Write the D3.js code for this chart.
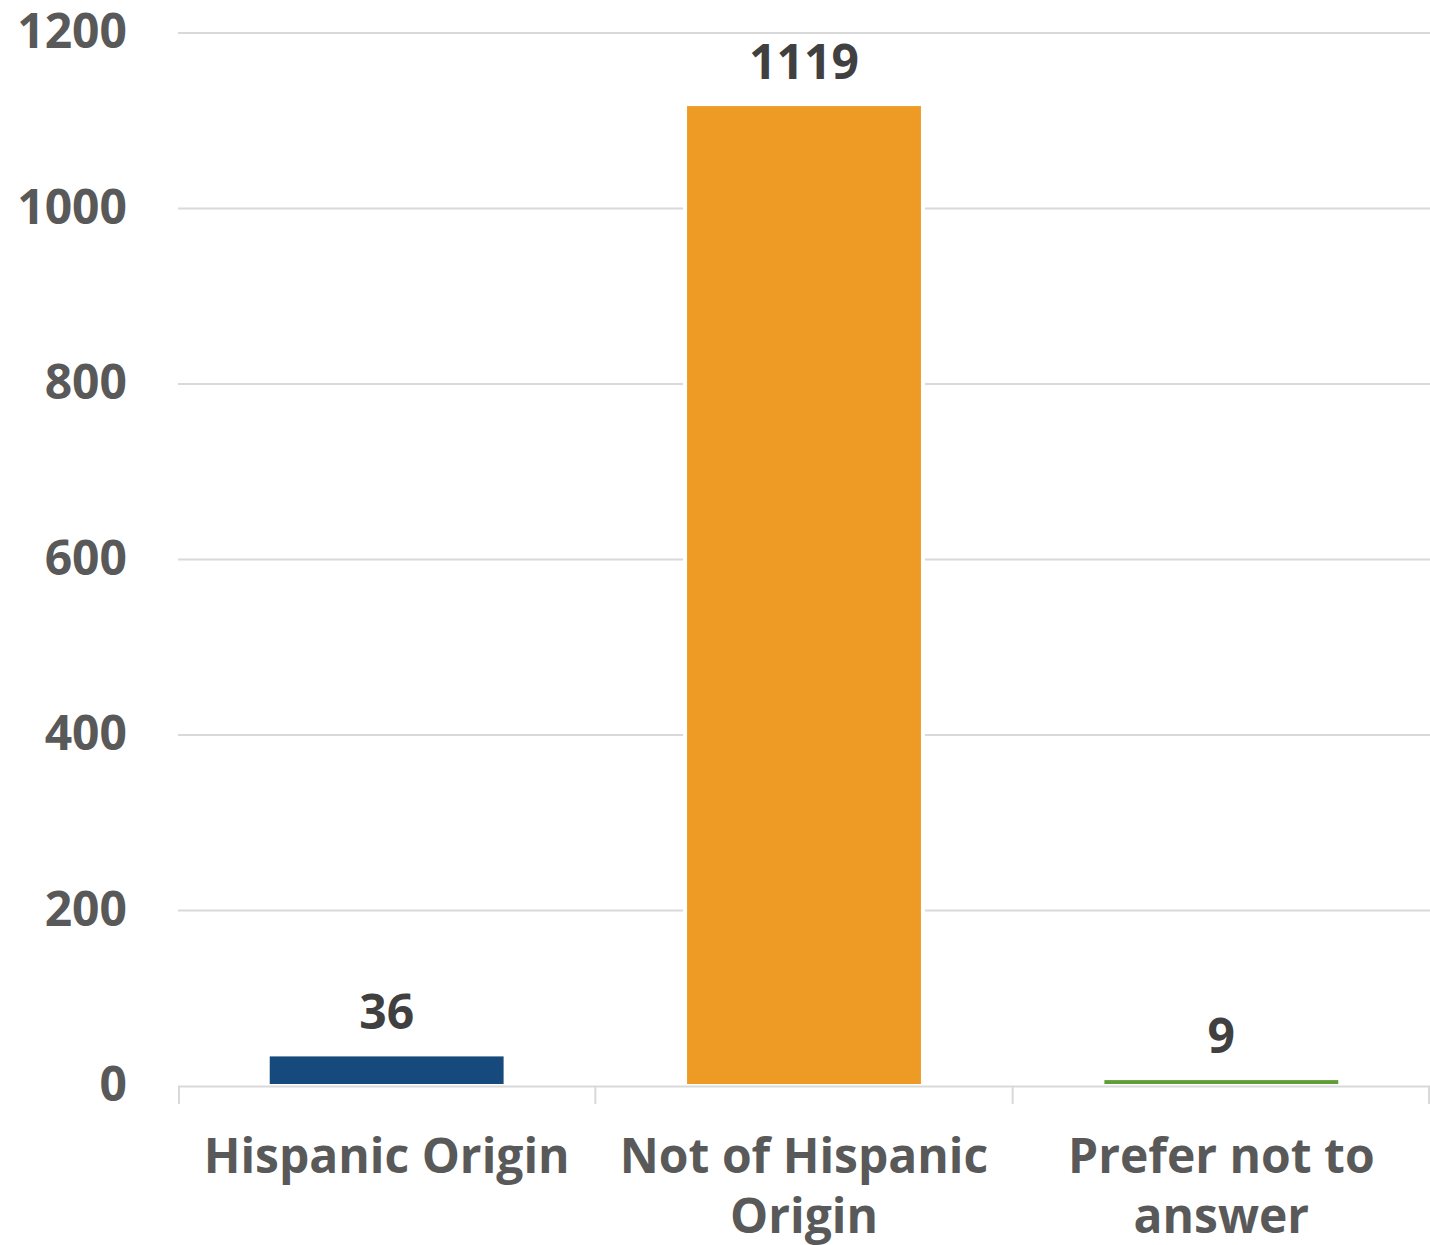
<!DOCTYPE html>
<html>
<head>
<meta charset="utf-8">
<script src="https://cdn.jsdelivr.net/npm/d3@7"></script>
<style>
  html, body { margin: 0; padding: 0; background: #ffffff; }
  svg { display: block; }
  text { font-family: "Open Sans", sans-serif; font-weight: 700; }
</style>
</head>
<body>
<svg id="chart" width="1430" height="1245"></svg>
<script>
const categories = ["Hispanic Origin", "Not of Hispanic Origin", "Prefer not to answer"];
const values = [36, 1119, 9];
const colors = ["#174A7C", "#ED9B25", "#5E9E38"];
const yTicks = [0, 200, 400, 600, 800, 1000, 1200];

const svg = d3.select("#chart");
const plotLeft = 178, plotRight = 1430, plotTop = 33, plotBottom = 1086;

const x = d3.scaleBand().domain(categories).range([plotLeft, plotRight]).paddingInner(0.43).paddingOuter(0.215);
const band = d3.scaleBand().domain(categories).range([plotLeft, plotRight]).padding(0);
const y = d3.scaleLinear().domain([0, 1200]).range([plotBottom, plotTop]);

// gridlines
svg.append("g").selectAll("line").data(yTicks.filter(d => d > 0)).join("line")
  .attr("x1", plotLeft).attr("x2", plotRight)
  .attr("y1", d => y(d)).attr("y2", d => y(d))
  .attr("stroke", "#d9d9d9").attr("stroke-width", 2);

// y tick labels
svg.append("g").selectAll("text").data(yTicks).join("text")
  .attr("x", 127).attr("y", d => y(d) + 15)
  .attr("text-anchor", "end")
  .attr("font-size", 48).attr("fill", "#595959")
  .text(d => d);

// bars
svg.append("g").selectAll("rect").data(values).join("rect")
  .attr("x", (d, i) => x(categories[i]))
  .attr("width", x.bandwidth())
  .attr("y", d => y(d))
  .attr("height", d => y(0) - y(d))
  .attr("fill", (d, i) => colors[i])
  .attr("stroke", "#ffffff").attr("stroke-width", 4);

// axis line
svg.append("line").attr("x1", plotLeft).attr("x2", plotRight)
  .attr("y1", y(0) + 0.5).attr("y2", y(0) + 0.5)
  .attr("stroke", "#d9d9d9").attr("stroke-width", 2);

// tick marks at band boundaries
const bounds = categories.map(c => band(c)).concat([band(categories[categories.length - 1]) + band.bandwidth()]);
svg.append("g").selectAll("line").data(bounds).join("line")
  .attr("x1", d => Math.min(Math.max(d, plotLeft + 1), plotRight - 1))
  .attr("x2", d => Math.min(Math.max(d, plotLeft + 1), plotRight - 1))
  .attr("y1", y(0)).attr("y2", y(0) + 18)
  .attr("stroke", "#d9d9d9").attr("stroke-width", 2);

// data labels
svg.append("g").selectAll("text").data(values).join("text")
  .attr("x", (d, i) => x(categories[i]) + x.bandwidth() / 2)
  .attr("y", d => y(d) - 25.5)
  .attr("text-anchor", "middle")
  .attr("font-size", 48).attr("fill", "#404040")
  .text(d => d);

// category labels with wrapping
const maxW = band.bandwidth() - 20;
const catG = svg.append("g");
categories.forEach(c => {
  const cx = band(c) + band.bandwidth() / 2;
  const t = catG.append("text")
    .attr("x", cx).attr("y", 1173)
    .attr("text-anchor", "middle")
    .attr("font-size", 48).attr("fill", "#595959");
  const words = c.split(" ");
  let line = [];
  let tspan = t.append("tspan").attr("x", cx).attr("dy", 0);
  words.forEach(w => {
    line.push(w);
    tspan.text(line.join(" "));
    if (tspan.node().getComputedTextLength() > maxW && line.length > 1) {
      line.pop();
      tspan.text(line.join(" "));
      line = [w];
      tspan = t.append("tspan").attr("x", cx).attr("dy", 60).text(w);
    }
  });
});
</script>
</body>
</html>
